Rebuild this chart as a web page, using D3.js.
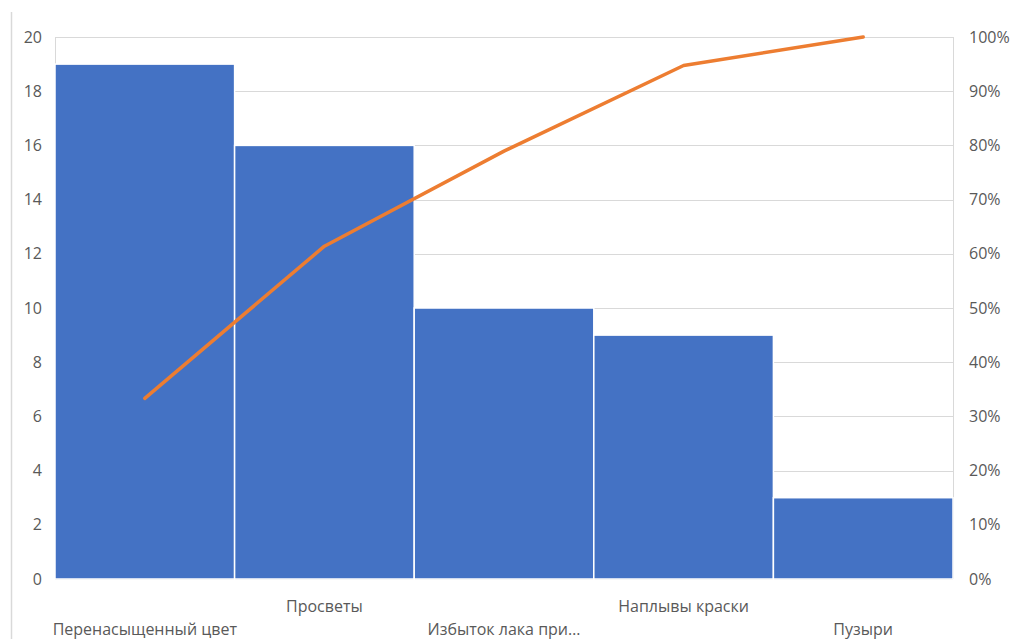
<!DOCTYPE html>
<html>
<head>
<meta charset="utf-8">
<script src="https://cdn.jsdelivr.net/npm/d3@7"></script>
<style>
  html, body { margin: 0; padding: 0; background: #fff; }
  svg { display: block; }
  text { font-family: "Open Sans", "Noto Sans", sans-serif; fill: #595959; }
</style>
</head>
<body>
<svg id="chart" width="1014" height="639"></svg>
<script>
// Defect categories and their counts (sorted descending, Pareto order)
const categories = ["Перенасыщенный цвет", "Просветы", "Избыток лака при…", "Наплывы краски", "Пузыри"];
const counts = [19, 16, 10, 9, 3];
const countTicks = [0, 2, 4, 6, 8, 10, 12, 14, 16, 18, 20];
const percentTicks = [0, 0.1, 0.2, 0.3, 0.4, 0.5, 0.6, 0.7, 0.8, 0.9, 1.0];

// Cumulative share for the Pareto line
const total = d3.sum(counts);
const cumulative = counts.map((d, i) => d3.sum(counts.slice(0, i + 1)) / total);

const svg = d3.select("#chart");
const W = 1014, H = 639;
const m = { left: 55, right: 61, top: 37, bottom: 60 };

const x = d3.scaleBand().domain(categories).range([m.left, W - m.right]).padding(0);
const y = d3.scaleLinear().domain([0, 20]).range([H - m.bottom, m.top]);
const yPct = d3.scaleLinear().domain([0, 1]).range([H - m.bottom, m.top]);

// Outer frame edge on the left
svg.append("line")
  .attr("x1", 11.5).attr("x2", 11.5).attr("y1", 12).attr("y2", H)
  .attr("stroke", "#d9d9d9").attr("stroke-width", 1.5);

// Horizontal gridlines
svg.append("g")
  .selectAll("line")
  .data(countTicks)
  .join("line")
  .attr("x1", m.left).attr("x2", W - m.right)
  .attr("y1", d => Math.round(y(d)) + 0.5).attr("y2", d => Math.round(y(d)) + 0.5)
  .attr("stroke", "#d9d9d9").attr("stroke-width", 1);

// Plot area side edges
svg.append("g")
  .selectAll("line")
  .data([m.left, W - m.right])
  .join("line")
  .attr("x1", d => d + 0.5).attr("x2", d => d + 0.5)
  .attr("y1", m.top).attr("y2", H - m.bottom)
  .attr("stroke", "#d9d9d9").attr("stroke-width", 1);

// Bars
svg.append("g")
  .selectAll("rect")
  .data(counts)
  .join("rect")
  .attr("x", (d, i) => x(categories[i]))
  .attr("y", d => y(d))
  .attr("width", x.bandwidth())
  .attr("height", d => y(0) - y(d))
  .attr("fill", "#4472c4")
  .attr("stroke", "#ffffff")
  .attr("stroke-width", 1.5);

// Cumulative percentage line
const line = d3.line()
  .x((d, i) => x(categories[i]) + x.bandwidth() / 2)
  .y(d => yPct(d));
svg.append("path")
  .datum(cumulative)
  .attr("d", line)
  .attr("fill", "none")
  .attr("stroke", "#ed7d31")
  .attr("stroke-width", 3.5)
  .attr("stroke-linejoin", "round")
  .attr("stroke-linecap", "round");

// Left axis (counts)
const leftAxis = svg.append("g")
  .attr("transform", `translate(${m.left},0)`)
  .call(d3.axisLeft(y).tickValues(countTicks).tickSize(0).tickPadding(13));
leftAxis.select(".domain").remove();
leftAxis.selectAll("text").style("font-size", "16px").style("fill", "#595959");

// Right axis (cumulative percent)
const rightAxis = svg.append("g")
  .attr("transform", `translate(${W - m.right},0)`)
  .call(d3.axisRight(yPct).tickValues(percentTicks).tickSize(0).tickPadding(16)
    .tickFormat(d3.format(".0%")));
rightAxis.select(".domain").remove();
rightAxis.selectAll("text").style("font-size", "16px").style("fill", "#595959");

// Category labels, staggered on two rows
svg.append("g")
  .selectAll("text")
  .data(categories)
  .join("text")
  .attr("x", d => x(d) + x.bandwidth() / 2)
  .attr("y", (d, i) => i % 2 === 0 ? 635 : 612)
  .attr("text-anchor", "middle")
  .style("font-size", "16px")
  .text(d => d);
</script>
</body>
</html>
